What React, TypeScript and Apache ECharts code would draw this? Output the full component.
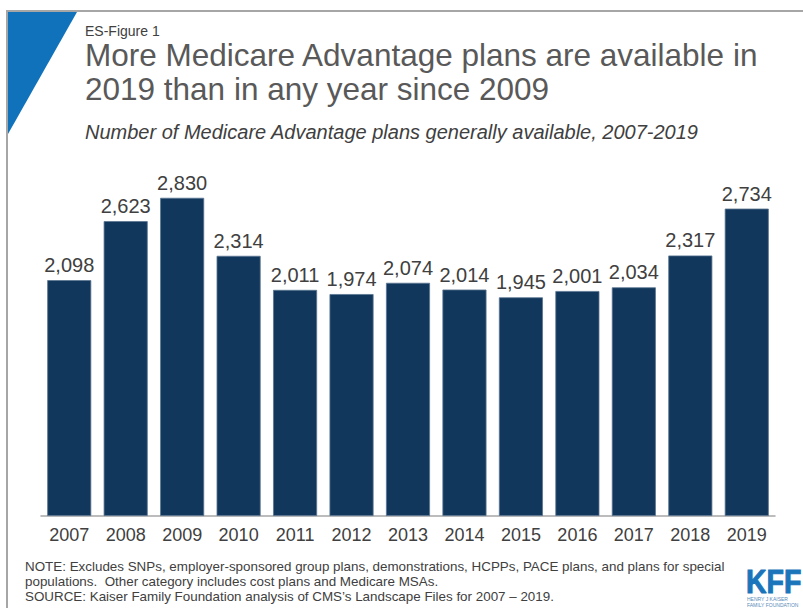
import React, { useEffect, useRef } from "react";
import * as echarts from "echarts";

const years = ["2007","2008","2009","2010","2011","2012","2013","2014","2015","2016","2017","2018","2019"];
const plans = [2098, 2623, 2830, 2314, 2011, 1974, 2074, 2014, 1945, 2001, 2034, 2317, 2734];

const figureLabel = "ES-Figure 1";
const titleLines = ["More Medicare Advantage plans are available in", "2019 than in any year since 2009"];
const subtitle = "Number of Medicare Advantage plans generally available, 2007-2019";
const notes = [
  "NOTE: Excludes SNPs, employer-sponsored group plans, demonstrations, HCPPs, PACE plans, and plans for special",
  "populations.  Other category includes cost plans and Medicare MSAs.",
  "SOURCE: Kaiser Family Foundation analysis of CMS\u2019s Landscape Files for 2007 \u2013 2019.",
];

const FONT = "'Liberation Sans', Arial, sans-serif";

export default function App() {
  const ref = useRef<HTMLDivElement>(null);
  useEffect(() => {
    if (!ref.current) return;
    const chart = echarts.init(ref.current, null, { renderer: "svg" });
    chart.setOption({
      animation: false,
      backgroundColor: "#ffffff",
      grid: { left: 41, right: 28, top: 178.7, bottom: 95, containLabel: false },
      xAxis: {
        type: "category",
        data: years,
        axisLine: { lineStyle: { color: "#a6a6a6", width: 1.5 } },
        axisTick: { show: false },
        axisLabel: { color: "#404040", fontSize: 18, fontFamily: FONT, margin: 10 },
      },
      yAxis: {
        type: "value",
        min: 0,
        max: 3000,
        show: false,
        splitLine: { show: false },
      },
      series: [
        {
          type: "bar",
          data: plans,
          barCategoryGap: "22%",
          itemStyle: { color: "#11385c", borderColor: "#5a7590", borderWidth: 0.8 },
          label: {
            show: true,
            position: "top",
            distance: 5,
            color: "#404040",
            fontSize: 20,
            fontFamily: FONT,
            formatter: (p: any) => Number(p.value).toLocaleString("en-US"),
          },
        },
      ],
      graphic: [
        { type: "line", shape: { x1: 7, y1: 11, x2: 803, y2: 11 }, style: { stroke: "#a6a6a6", lineWidth: 2 } },
        { type: "line", shape: { x1: 7, y1: 10, x2: 7, y2: 608 }, style: { stroke: "#a6a6a6", lineWidth: 2 } },
        { type: "polygon", shape: { points: [[8, 12], [77, 12], [8, 134]] }, style: { fill: "#0f72bb" } },
        { type: "text", x: 85, y: 23.5, style: { text: figureLabel, fontSize: 14, lineHeight: 14, fontFamily: FONT, fill: "#404040" } },
        { type: "text", x: 85, y: 42, style: { text: titleLines[0], fontSize: 31.5, lineHeight: 26, fontFamily: FONT, fill: "#595959" } },
        { type: "text", x: 85, y: 76, style: { text: titleLines[1], fontSize: 31.5, lineHeight: 26, fontFamily: FONT, fill: "#595959" } },
        { type: "text", x: 85, y: 122, style: { text: subtitle, fontSize: 20, fontStyle: "italic", fontFamily: FONT, fill: "#404040" } },
        { type: "text", x: 25, y: 560, style: { text: notes[0], fontSize: 13.4, fontFamily: FONT, fill: "#404040" } },
        { type: "text", x: 25, y: 575, style: { text: notes[1], fontSize: 13.4, fontFamily: FONT, fill: "#404040" } },
        { type: "text", x: 25, y: 590, style: { text: notes[2], fontSize: 13.4, fontFamily: FONT, fill: "#404040" } },
        { type: "text", x: 746, y: 565, scaleX: 0.84, style: { text: "KFF", fontSize: 34, fontWeight: 900, fontFamily: FONT, fill: "#1a75bb", stroke: "#1a75bb", lineWidth: 1 } },
        { type: "text", x: 747, y: 596, style: { text: "HENRY J KAISER", fontSize: 5, fontFamily: FONT, fill: "#5a8bb8" } },
        { type: "text", x: 747, y: 602, style: { text: "FAMILY FOUNDATION", fontSize: 5, fontFamily: FONT, fill: "#5a8bb8" } },
      ],
    });
    return () => chart.dispose();
  }, []);
  return (
    <div
      ref={ref}
      style={{ position: "fixed", left: 0, top: 0, width: 803, height: 611, background: "#fff" }}
    />
  );
}
